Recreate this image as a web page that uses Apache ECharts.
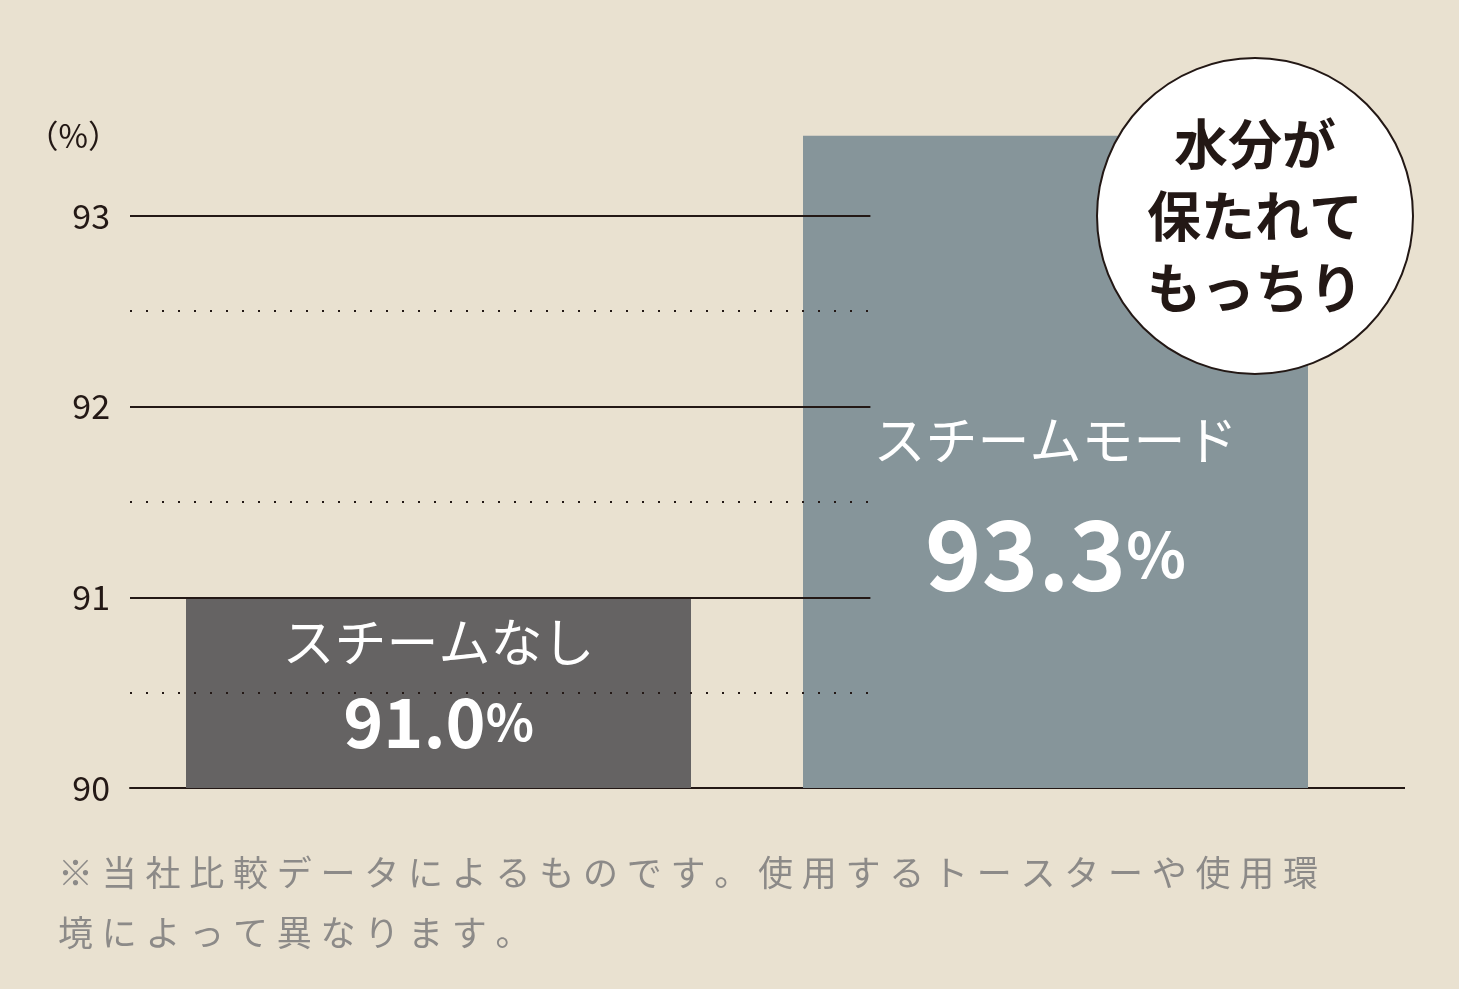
<!DOCTYPE html>
<html><head><meta charset="utf-8">
<script src="https://cdn.jsdelivr.net/npm/echarts@6/dist/echarts.min.js"></script>
<style>html,body{margin:0;background:#e9e1d0}#c{width:1459px;height:989px}</style>
</head><body><div id="c"></div>
<script>
const categories = ['スチームなし', 'スチームモード'];
const values = [91.0, 93.42];
const valueLabels = ['91.0', '93.3'];
const yTicks = [90, 91, 92, 93];
const dottedTicks = [90.5, 91.5, 92.5];
const barColors = ['#656363', '#86959a'];
const note1 = '※当社比較データによるものです。使用するトースターや使用環';
const note2 = '境によって異なります。';
const badge = '水分が\n保たれて\nもっちり';
const F = '"Noto Sans CJK JP", "Noto Sans", sans-serif';
const sp = s => s.split('').join('\u2005');
const chart = echarts.init(document.getElementById('c'));
chart.setOption({
  backgroundColor: '#e9e1d0',
  animation: false,
  grid: {left: 130, right: 95, top: 120.5, bottom: 201},
  xAxis: [
    {type: 'category', data: categories, axisTick: {show: false}, axisLabel: {show: false},
      axisLine: {lineStyle: {color: '#231815', width: 2}}},
    {type: 'value', min: 0, max: 1, show: false}
  ],
  yAxis: {type: 'value', min: 90, max: 93.5, interval: 1,
    name: '（%）', nameLocation: 'end', nameGap: -15,
    nameTextStyle: {fontFamily: F, fontSize: 32, color: '#231815', align: 'right', verticalAlign: 'middle', padding: [0, 10, 0, 0]},
    axisLine: {show: false}, axisTick: {show: false},
    axisLabel: {fontFamily: F, fontSize: 34, color: '#231815', margin: 20,
      formatter: v => yTicks.includes(v) ? String(v) : ''},
    splitLine: {show: false}
  },
  series: [
    {type: 'line', xAxisIndex: 1, data: [], z: 1, silent: true,
      markLine: {symbol: 'none', silent: true, label: {show: false},
        data: yTicks.slice(1).map(t => [{coord: [0, t], lineStyle: {color: '#231815', width: 2, type: 'solid'}}, {coord: [0.6, t]}])
          .concat(dottedTicks.map(t => [{coord: [0, t], lineStyle: {color: '#231815', width: 2, type: [2, 14]}}, {coord: [0.6, t]}]))}
    },
    {type: 'bar', barWidth: 505, z: 2,
    data: values.map((v, i) => ({
      value: v, itemStyle: {color: barColors[i]},
      label: {show: true, position: ['50%', i === 0 ? 10 : 254], align: 'center',
        formatter: '{a|' + categories[i] + '}\n{b|' + valueLabels[i] + '}{c|%}',
        rich: {
          a: {fontFamily: F, fontSize: 52, color: '#fff', lineHeight: i === 0 ? 70 : 100},
          b: {fontFamily: F, fontSize: i === 0 ? 68 : 96, fontWeight: 'bold', color: '#fff', lineHeight: i === 0 ? 90 : 130},
          c: {fontFamily: F, fontSize: i === 0 ? 50 : 62, fontWeight: 'bold', color: '#fff'}
        }}
    }))
  }],
  graphic: [
    {type: 'line', z: 100, shape: {x1: 1364, y1: 788, x2: 1405, y2: 788}, style: {stroke: '#231815', lineWidth: 2}},
    {type: 'circle', z: 100, shape: {cx: 1255, cy: 216, r: 158}, style: {fill: '#fff', stroke: '#231815', lineWidth: 2}},
    {type: 'text', z: 101, x: 1255, y: 216, style: {text: badge, fontFamily: F, fontSize: 54, fontWeight: 'bold',
      fill: '#231815', align: 'center', verticalAlign: 'middle', lineHeight: 72}},
    {type: 'text', z: 100, x: 58, y: 873, style: {text: sp(note1), fontFamily: F, fontSize: 35, fill: '#8c8a88', verticalAlign: 'middle'}},
    {type: 'text', z: 100, x: 58, y: 933, style: {text: sp(note2), fontFamily: F, fontSize: 35, fill: '#8c8a88', verticalAlign: 'middle'}}
  ]
});
</script></body></html>
